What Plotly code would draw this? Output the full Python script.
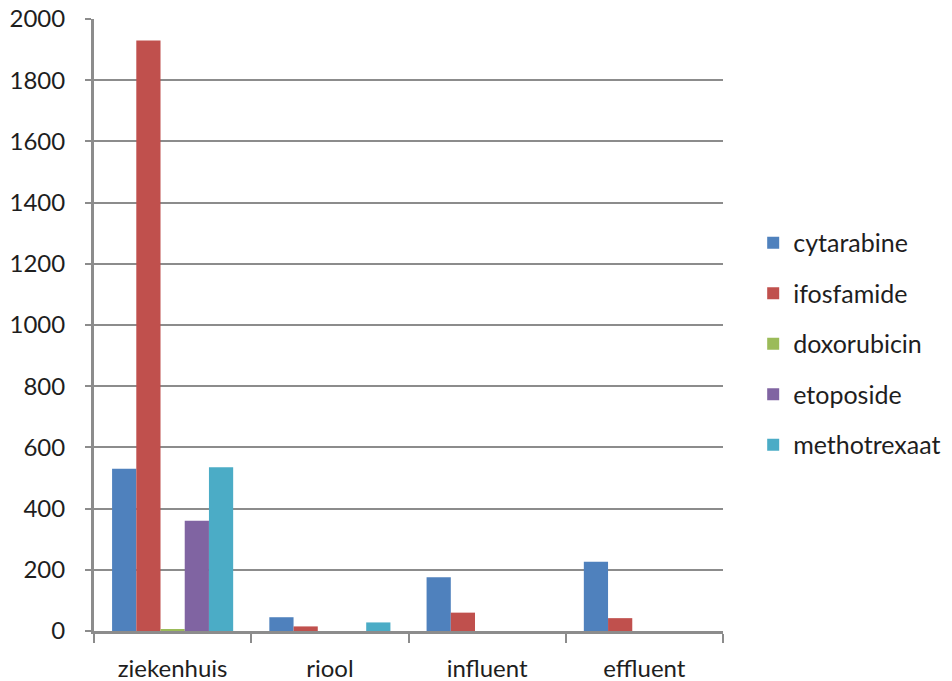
import plotly.graph_objects as go

# Locations along the water chain
categories = ["ziekenhuis", "riool", "influent", "effluent"]

# Measured concentrations per compound
cytarabine = [530, 45, 176, 226]
ifosfamide = [1930, 15, 60, 42]
doxorubicin = [5, 0, 0, 0]
etoposide = [360, 0, 0, 0]
methotrexaat = [535, 28, 0, 0]

series = [
    ("cytarabine", cytarabine, "#4F81BD"),
    ("ifosfamide", ifosfamide, "#C0504D"),
    ("doxorubicin", doxorubicin, "#9BBB59"),
    ("etoposide", etoposide, "#8064A2"),
    ("methotrexaat", methotrexaat, "#4BACC6"),
]

FONT = "Lato, 'Open Sans', sans-serif"
TEXT = "#1e1e1e"

fig = go.Figure()
for name, vals, color in series:
    fig.add_trace(go.Bar(
        x=categories, y=vals, name=name, legendgroup=name,
        marker=dict(color=color, line=dict(width=0)),
    ))

fig.update_layout(
    width=952, height=681,
    margin=dict(l=94, r=229, t=19, b=50, autoexpand=False),
    paper_bgcolor="white", plot_bgcolor="white",
    barmode="group", bargap=0.23, bargroupgap=0,
    font=dict(family=FONT, size=24, color=TEXT),
    legend=dict(
        x=1.048, y=0.469, xanchor="left", yanchor="middle",
        font=dict(family=FONT, size=25, color=TEXT),
        tracegroupgap=15, itemwidth=30,
    ),
    showlegend=True,
)

fig.update_xaxes(
    type="category", tickson="boundaries", automargin=False,
    ticks="outside", ticklen=9, tickwidth=2, tickcolor="#8c8c8c",
    showline=True, linecolor="#8c8c8c", linewidth=2.5,
    showgrid=False,
    ticklabelstandoff=14,
    tickfont=dict(family=FONT, size=24, color=TEXT),
)
fig.update_yaxes(
    range=[0, 2000], dtick=200, automargin=False,
    ticks="outside", ticklen=6, tickwidth=2, tickcolor="#8c8c8c",
    showline=True, linecolor="#8c8c8c", linewidth=3,
    showgrid=True, gridcolor="#8c8c8c", gridwidth=1.5,
    zeroline=False,
    ticklabelstandoff=15,
    tickfont=dict(family=FONT, size=24, color=TEXT),
)

fig.write_html("out.html")
